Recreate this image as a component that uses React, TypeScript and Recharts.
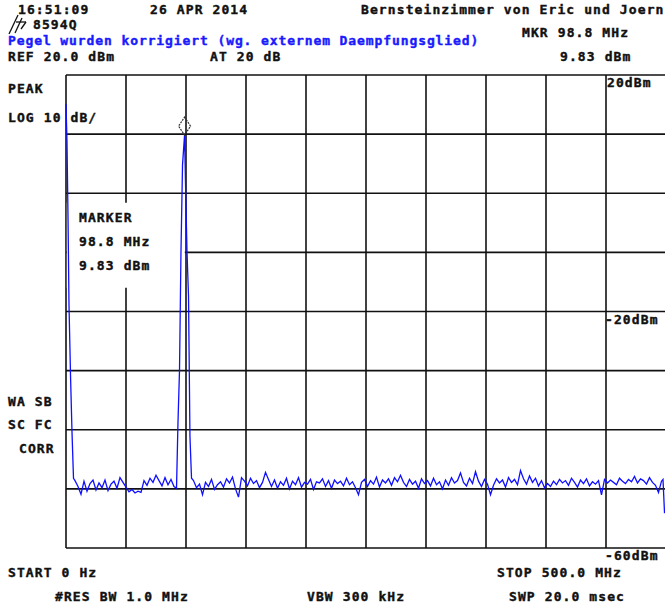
import React from 'react';
import { LineChart, Line, XAxis, YAxis, CartesianGrid, ReferenceArea, ReferenceDot } from 'recharts';

// sweep 0..500 MHz, ref 20 dBm, 10 dB/div
const freqTicks = [0, 50, 100, 150, 200, 250, 300, 350, 400, 450, 500];
const levelTicks = [-60, -50, -40, -30, -20, -10, 0, 10, 20];

// LO feedthrough at 0 Hz
const startFreqs = [0, 0.8, 1.7, 2.5, 3.75, 5, 6.25];
const startLevels = [15.1, 9.0, -4.5, -18.9, -30.7, -40.4, -48.2];

// noise floor 7.5 .. 90 MHz, 2.5 MHz bins
const binStep = 2.5;
const noiseLowStart = 7.5;
const noiseLow = [
  -48.6, -49.6, -50.9, -48.7, -50.4, -49.1, -48.5, -50.2, -49.0, -49.8,
  -48.5, -50.3, -49.2, -48.7, -49.9, -48.1, -48.9, -49.7, -50.5, -50.1,
  -50.7, -50.4, -50.6, -48.6, -49.4, -48.2, -48.9, -47.7, -48.6, -49.5,
  -48.1, -49.3, -48.4, -49.6,
];

// carrier at 98.8 MHz
const peakFreqs = [92.1, 93.3, 94.6, 95.8, 97.1, 98.8, 99.6, 100.8, 102.1, 103.3, 104.6];
const peakLevels = [-49.9, -38.9, -29.9, -10.1, 4.8, 9.83, 1.7, -9.6, -17.5, -41.2, -48.2];

// noise floor 106.25 .. 496.25 MHz
const noiseHighStart = 106.25;
const noiseHigh = [
  -48.6, -49.8, -49.2, -51.0, -48.9, -49.6, -48.4, -50.1, -49.3, -48.8,
  -49.7, -48.3, -49.0, -48.0, -50.0, -51.4, -48.1, -48.7, -49.5, -48.2,
  -49.1, -48.6, -49.8, -48.9, -47.2, -48.4, -49.6, -48.5, -49.9, -48.8,
  -49.4, -48.2, -50.0, -48.7, -49.3, -48.1, -49.7, -48.9, -49.2, -48.4,
  -50.1, -48.8, -49.0, -48.3, -49.6, -48.6, -49.9, -48.5, -49.1, -48.7,
  -49.5, -48.2, -49.3, -48.8, -49.8, -51.0, -48.9, -48.4, -49.6, -48.6,
  -49.2, -48.0, -49.7, -48.5, -49.0, -48.3, -49.4, -48.1, -48.8, -47.7,
  -48.9, -49.6, -48.4, -49.2, -48.7, -49.9, -48.3, -49.1, -48.6, -49.5,
  -48.2, -49.3, -48.8, -50.0, -48.5, -49.4, -48.1, -49.0, -48.6, -47.3,
  -48.9, -49.5, -48.2, -49.1, -47.1, -48.7, -49.6, -48.4, -49.2, -51.0,
  -49.4, -48.3, -49.0, -48.5, -49.7, -48.1, -48.9, -48.4, -49.3, -46.9,
  -48.3, -49.2, -47.8, -48.9, -48.2, -49.5, -48.6, -49.8, -49.1, -49.6,
  -48.7, -49.3, -48.4, -49.0, -48.6, -49.4, -48.2, -48.9, -49.7, -48.5,
  -49.1, -48.3, -49.5, -48.8, -49.2, -48.6, -51.0, -48.4, -49.0, -48.5,
  -48.9, -49.3, -48.2, -48.7, -49.1, -48.4, -48.8, -47.9, -49.0, -48.3,
  -48.6, -49.2, -48.1, -48.9, -49.4, -50.6, -48.7,
];

const endFreqs = [497.5, 498.75, 500];
const endLevels = [-48.4, -54.0, -54.0];

const marker = { f: 98.8, v: 9.83 };

const trace = [
  ...startFreqs.map((f, i) => ({ f, v: startLevels[i] })),
  ...noiseLow.map((v, i) => ({ f: noiseLowStart + i * binStep, v })),
  ...peakFreqs.map((f, i) => ({ f, v: peakLevels[i] })),
  ...noiseHigh.map((v, i) => ({ f: noiseHighStart + i * binStep, v })),
  ...endFreqs.map((f, i) => ({ f, v: endLevels[i] })),
];

// screen annotations [text, left, centerY, color?]
const labels: [string, number, number, string?][] = [
  ['16:51:09', 18, 10],
  ['26 APR 2014', 150, 10],
  ['Bernsteinzimmer von Eric und Joern', 361, 10],
  ['8594Q', 33, 25],
  ['MKR 98.8 MHz', 522, 33],
  ['Pegel wurden korrigiert (wg. externem Daempfungsglied)', 8, 41, '#1a1aff'],
  ['REF 20.0 dBm', 8, 57],
  ['AT 20 dB', 210, 57],
  ['9.83 dBm', 560, 57],
  ['PEAK', 8, 89],
  ['LOG 10 dB/', 8, 118],
  ['MARKER', 79, 218],
  ['98.8 MHz', 79, 242],
  ['9.83 dBm', 79, 266],
  ['WA SB', 8, 402],
  ['SC FC', 8, 425],
  ['CORR', 19, 449],
  ['20dBm', 607, 83],
  ['-20dBm', 605, 320],
  ['-60dBm', 605, 556],
  ['START 0 Hz', 8, 573],
  ['STOP 500.0 MHz', 497, 573],
  ['#RES BW 1.0 MHz', 55, 597],
  ['VBW 300 kHz', 307, 597],
  ['SWP 20.0 msec', 509, 597],
];

const MarkerDiamond = (props: any) => {
  const { cx, cy } = props;
  if (cx == null || cy == null) return null;
  const pts = `${cx},${cy - 18} ${cx + 6},${cy - 9} ${cx},${cy} ${cx - 6},${cy - 9}`;
  return <polygon points={pts} fill="none" stroke="#333" strokeWidth={1.2} strokeDasharray="2 1" />;
};

export default function App() {
  return (
    <div style={{ position: 'absolute', left: 0, top: 0, width: 665, height: 610, overflow: 'hidden', background: '#fff' }}>
      <LineChart width={680} height={610} data={trace} margin={{ top: 75, right: 14, bottom: 62, left: 66 }}>
        <CartesianGrid stroke="#111" strokeWidth={1.6} />
        <XAxis dataKey="f" type="number" domain={[0, 500]} ticks={freqTicks} hide />
        <YAxis type="number" domain={[-60, 20]} ticks={levelTicks} hide />
        <ReferenceArea x1={0.7} x2={99} y1={-16} y2={-1.6} fill="#fff" fillOpacity={1} stroke="none" />
        <Line dataKey="v" type="linear" stroke="#1010ff" strokeWidth={1.3} dot={false} isAnimationActive={false} />
        <ReferenceDot x={marker.f} y={marker.v} shape={MarkerDiamond} />
      </LineChart>
      {labels.map(([t, x, y, c], i) => (
        <div
          key={i}
          style={{
            position: 'absolute',
            left: x,
            top: y - 8,
            lineHeight: '16px',
            fontFamily: '"DejaVu Sans Mono", monospace',
            fontWeight: 'bold',
            fontSize: 13,
            letterSpacing: c ? 0.9 : 1.1,
            color: c || '#111',
            WebkitTextStroke: `0.4px ${c || '#111'}`,
            whiteSpace: 'pre',
          }}
        >
          {t}
        </div>
      ))}
      <svg style={{ position: 'absolute', left: 6, top: 14 }} width={24} height={22}>
        <line x1={12} y1={1} x2={3} y2={20} stroke="#111" strokeWidth={1.3} />
        <line x1={16} y1={4} x2={9} y2={19} stroke="#111" strokeWidth={1.3} />
        <line x1={10} y1={8} x2={20} y2={8} stroke="#111" strokeWidth={1.3} />
        <line x1={20} y1={8} x2={15} y2={15} stroke="#111" strokeWidth={1.3} />
      </svg>
    </div>
  );
}
